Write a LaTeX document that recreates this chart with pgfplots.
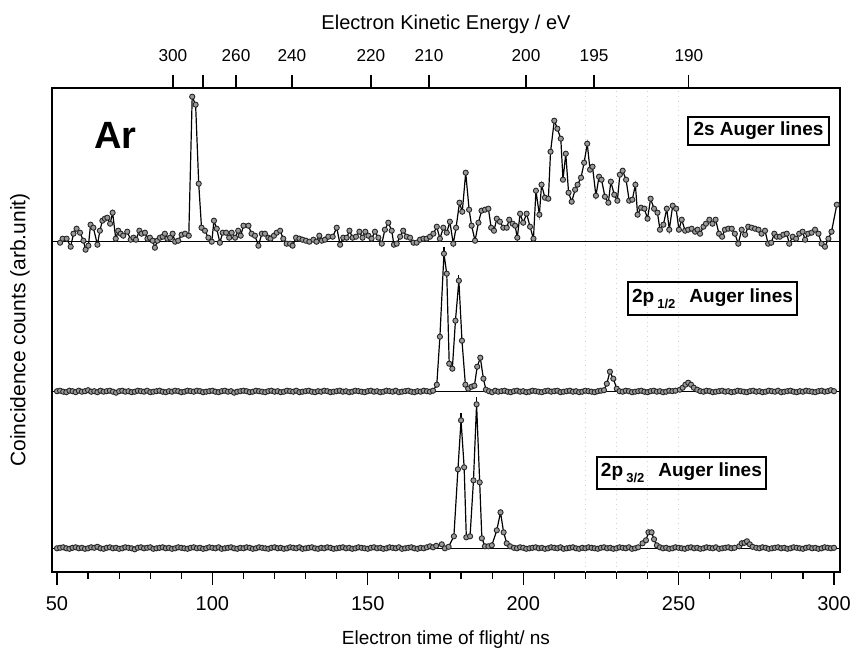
\documentclass[border=0pt]{standalone}
\usepackage{fontspec}
\setmainfont{Liberation Sans}
\usepackage{pgfplots}
\usepackage{pgfplotstable}
\pgfplotsset{compat=1.18}

% 2s Auger lines (t in ns, h = height above baseline)
\pgfplotstableread[row sep=\\]{
t h\\
51.0 -1\\ 51.8 3\\ 53.1 3\\ 54.4 -5\\ 55.3 8\\ 56.3 13\\ 57.4 9\\ 58.5 1\\ 59.2 -8\\ 60.1 -4\\
60.8 17\\ 61.7 14\\ 63.0 -3\\ 63.8 11\\ 64.6 21\\ 65.4 23\\ 66.2 24\\ 67.1 18\\ 67.9 29\\ 68.9 3\\
69.7 11\\ 70.5 8\\ 71.3 6\\ 72.6 10\\ 73.7 2\\ 74.6 4\\ 75.4 2\\ 76.5 11\\ 77.2 8\\ 78.3 9\\
79.1 3\\ 79.9 4\\ 80.8 1\\ 81.5 -6\\ 82.3 1\\ 83.1 4\\ 84.0 5\\ 84.7 8\\ 85.5 3\\ 86.4 4\\
87.2 8\\ 88.0 0\\ 89.0 1\\ 90.1 7\\ 91.2 8\\ 92.4 6\\ 93.5 145\\ 94.6 137\\ 95.6 58\\ 96.5 14\\
97.6 11\\ 98.7 4\\ 99.8 0\\ 100.5 21\\ 101.4 13\\ 102.4 -1\\ 103.3 9\\ 104.4 9\\ 105.4 4\\ 106.2 9\\
107.3 4\\ 108.3 11\\ 109.1 6\\ 110.0 16\\ 111.6 16\\ 112.6 8\\ 113.7 6\\ 114.8 -4\\ 115.9 8\\ 116.9 8\\
118.0 4\\ 118.7 3\\ 119.8 6\\ 120.7 9\\ 121.8 11\\ 122.8 3\\ 123.9 -2\\ 125.0 -2\\ 125.8 -4\\ 126.9 4\\
128.0 3\\ 129.0 2\\ 130.1 1\\ 131.2 0\\ 132.5 2\\ 133.5 0\\ 134.4 6\\ 135.2 1\\ 136.2 2\\ 137.3 5\\
138.7 5\\ 140.0 14\\ 141.1 -3\\ 142.1 4\\ 143.2 4\\ 144.1 11\\ 145.1 4\\ 146.2 5\\ 147.3 10\\ 148.3 4\\
149.2 10\\ 150.2 6\\ 151.2 3\\ 152.3 10\\ 153.4 4\\ 154.5 -2\\ 155.5 12\\ 156.6 19\\ 157.7 11\\ 158.4 -3\\
159.3 -2\\ 160.4 5\\ 161.4 11\\ 162.5 5\\ 163.6 4\\ 164.7 -1\\ 165.7 -1\\ 166.8 2\\ 167.9 3\\ 168.9 3\\
170.0 5\\ 171.1 8\\ 172.2 15\\ 173.2 3\\ 174.3 14\\ 175.4 9\\ 176.4 20\\ 177.5 -2\\ 178.4 14\\ 179.5 39\\
180.4 30\\ 181.5 69\\ 182.6 32\\ 183.4 16\\ 184.5 1\\ 185.6 19\\ 186.6 31\\ 187.7 32\\ 188.8 33\\ 189.7 14\\
190.6 11\\ 191.5 23\\ 192.5 20\\ 193.6 14\\ 194.7 14\\ 195.5 22\\ 196.6 18\\ 197.4 16\\ 198.1 4\\ 199.0 28\\
200.0 19\\ 201.1 28\\ 202.2 15\\ 203.3 3\\ 204.1 51\\ 205.2 27\\ 205.9 57\\ 207.0 44\\ 208.1 43\\ 208.8 90\\
210.0 121\\ 211.0 113\\ 212.1 103\\ 212.8 62\\ 213.7 88\\ 214.6 49\\ 215.6 40\\ 216.7 52\\ 217.5 57\\ 218.6 64\\
219.6 79\\ 220.6 98\\ 221.5 72\\ 222.3 75\\ 223.4 46\\ 224.4 65\\ 225.2 62\\ 226.3 45\\ 227.4 39\\ 228.2 60\\
229.3 47\\ 230.3 41\\ 231.1 67\\ 232.0 71\\ 233.1 62\\ 234.1 41\\ 235.1 42\\ 236.1 57\\ 236.8 27\\ 237.9 34\\
239.0 33\\ 240.0 23\\ 241.0 43\\ 242.1 33\\ 243.2 29\\ 244.0 12\\ 245.1 17\\ 246.2 33\\ 247.0 12\\ 248.1 36\\
249.2 33\\ 250.1 12\\ 251.0 22\\ 252.1 11\\ 253.1 12\\ 254.2 13\\ 255.3 10\\ 256.1 12\\ 256.9 8\\ 258.0 15\\
258.8 18\\ 259.9 22\\ 260.9 18\\ 261.9 22\\ 263.0 8\\ 264.0 5\\ 264.9 12\\ 266.0 13\\ 267.1 13\\ 268.1 8\\
269.2 -2\\ 270.3 12\\ 271.4 7\\ 272.4 15\\ 273.5 14\\ 274.6 13\\ 275.7 12\\ 276.7 8\\ 277.8 11\\ 278.8 -2\\
279.8 -1\\ 280.8 8\\ 281.6 5\\ 282.6 5\\ 283.7 7\\ 284.8 8\\ 285.6 -2\\ 286.7 5\\ 287.8 3\\ 288.8 8\\
289.9 10\\ 290.7 2\\ 291.7 8\\ 292.8 9\\ 293.9 12\\ 295.0 8\\ 296.0 -2\\ 297.1 -5\\ 298.2 3\\ 299.2 10\\
300.9 37\\
}\twosdata

% 2p1/2 Auger lines
\pgfplotstableread[row sep=\\]{
t h\\
50 0.5\\ 51 1\\ 52 0\\ 53 -0.5\\ 54 1\\ 55 0.5\\ 56 -0.5\\ 57 1\\ 58 0\\ 59 0.5\\
60 1.5\\ 61 0\\ 62 0.5\\ 63 -0.5\\ 64 1\\ 65 0\\ 66 0.5\\ 67 1\\ 68 0\\ 69 -1\\
70 0.5\\ 71 1\\ 72 0\\ 73 0.5\\ 74 -0.5\\ 75 0\\ 76 1\\ 77 0.5\\ 78 0\\ 79 1\\
80 -0.5\\ 81 0\\ 82 0.5\\ 83 1\\ 84 0\\ 85 -0.5\\ 86 0.5\\ 87 0\\ 88 1\\ 89 0.5\\
90 -0.5\\ 91 0\\ 92 1\\ 93 0.5\\ 94 0\\ 95 1\\ 96 0.5\\ 97 -0.5\\ 98 0\\ 99 0.5\\
100 1\\ 101 0\\ 102 -0.5\\ 103 0.5\\ 104 1\\ 105 0\\ 106 0.5\\ 107 -1\\ 108 0\\ 109 0.5\\
110 1\\ 111 0.5\\ 112 -0.5\\ 113 0\\ 114 1\\ 115 0.5\\ 116 0\\ 117 -0.5\\ 118 0.5\\ 119 1\\
120 0\\ 121 0.5\\ 122 -0.5\\ 123 0\\ 124 1\\ 125 0.5\\ 126 0\\ 127 1\\ 128 -0.5\\ 129 0\\
130 0.5\\ 131 1\\ 132 0\\ 133 -0.5\\ 134 0.5\\ 135 0\\ 136 1\\ 137 0.5\\ 138 -0.5\\ 139 0\\
140 0.5\\ 141 1\\ 142 0\\ 143 0.5\\ 144 -0.5\\ 145 0\\ 146 1\\ 147 0.5\\ 148 0\\ 149 -0.5\\
150 0.5\\ 151 1\\ 152 0\\ 153 0.5\\ 154 -0.5\\ 155 0\\ 156 1\\ 157 0.5\\ 158 0\\ 159 1\\
160 -0.5\\ 161 0\\ 162 0.5\\ 163 1\\ 164 0\\ 165 -0.5\\ 166 0.5\\ 167 0\\ 168 1\\ 169 0.5\\
170 0\\ 171 1\\ 172.2 7\\ 173.2 55\\ 174.5 138\\ 175.4 118\\ 176.2 28\\ 177.2 23\\ 178.2 71\\ 179.3 111\\
180.3 51\\ 181.4 7\\ 182.3 3\\ 183.4 5\\ 184.3 6\\ 185.2 25\\ 186.2 34\\ 187.2 13\\ 188.0 2\\ 189 0.5\\
190 -0.5\\ 191 1\\ 192 0\\ 193 0.5\\ 194 1\\ 195 0\\ 196 -0.5\\ 197 0.5\\ 198 1\\ 199 0\\
200 0.5\\ 201 -0.5\\ 202 0\\ 203 1\\ 204 0.5\\ 205 0\\ 206 -0.5\\ 207 0.5\\ 208 1\\ 209 0\\
210 0.5\\ 211 1\\ 212 -0.5\\ 213 0\\ 214 0.5\\ 215 1\\ 216 0\\ 217 0.5\\ 218 -0.5\\ 219 0\\
220 1\\ 221 0.5\\ 222 0\\ 223 -0.5\\ 224 0.5\\ 225 1\\ 226 1.5\\ 226.9 8\\ 227.9 20\\ 229.0 13\\
230.1 3\\ 231 0.5\\ 232 0\\ 233 1\\ 234 0.5\\ 235 -0.5\\ 236 0\\ 237 0.5\\ 238 1\\ 239 0\\
240 -0.5\\ 241 0.5\\ 242 1\\ 243 0\\ 244 0.5\\ 245 -0.5\\ 246 0\\ 247 1\\ 248 0.5\\ 249 1\\
250.4 2\\ 251.3 4\\ 252.2 7\\ 253.1 9\\ 254.0 7\\ 254.9 4\\ 256 2\\ 257 0.5\\ 258 0\\ 259 1\\
260 0.5\\ 261 -0.5\\ 262 0\\ 263 0.5\\ 264 1\\ 265 0\\ 266 0.5\\ 267 -0.5\\ 268 0\\ 269 1\\
270 0.5\\ 271 0\\ 272 -0.5\\ 273 0.5\\ 274 1\\ 275 0\\ 276 0.5\\ 277 -0.5\\ 278 0\\ 279 1\\
280 0.5\\ 281 0\\ 282 1\\ 283 -0.5\\ 284 0\\ 285 0.5\\ 286 1\\ 287 0\\ 288 -0.5\\ 289 0.5\\
290 0\\ 291 1\\ 292 0.5\\ 293 0\\ 294 -0.5\\ 295 0.5\\ 296 1\\ 297 0\\ 298 0.5\\ 299 1.5\\
300 0.5\\
}\ponedata

% 2p3/2 Auger lines
\pgfplotstableread[row sep=\\]{
t h\\
50 0\\ 51 0.5\\ 52 1\\ 53 0\\ 54 -0.5\\ 55 0.5\\ 56 1\\ 57 0\\ 58 0.5\\ 59 -0.5\\
60 0\\ 61 1\\ 62 0.5\\ 63 1.5\\ 64 0\\ 65 -0.5\\ 66 0.5\\ 67 1\\ 68 0\\ 69 0.5\\
70 -0.5\\ 71 0\\ 72 1\\ 73 0.5\\ 74 0\\ 75 -1\\ 76 0.5\\ 77 1\\ 78 0\\ 79 0.5\\
80 1\\ 81 -0.5\\ 82 0\\ 83 0.5\\ 84 1\\ 85 0\\ 86 0.5\\ 87 -0.5\\ 88 0\\ 89 1\\
90 0.5\\ 91 0\\ 92 -0.5\\ 93 0.5\\ 94 1\\ 95 0\\ 96 0.5\\ 97 -0.5\\ 98 0\\ 99 1\\
100 0.5\\ 101 0\\ 102 1\\ 103 -0.5\\ 104 0\\ 105 0.5\\ 106 1\\ 107 0\\ 108 -0.5\\ 109 0.5\\
110 0\\ 111 1\\ 112 0.5\\ 113 -0.5\\ 114 0\\ 115 1\\ 116 0.5\\ 117 0\\ 118 -0.5\\ 119 0.5\\
120 1\\ 121 0\\ 122 0.5\\ 123 -0.5\\ 124 0\\ 125 1\\ 126 0.5\\ 127 0\\ 128 1\\ 129 -0.5\\
130 0\\ 131 0.5\\ 132 1\\ 133 0\\ 134 -0.5\\ 135 0.5\\ 136 0\\ 137 1\\ 138 0.5\\ 139 -0.5\\
140 0\\ 141 0.5\\ 142 1\\ 143 0\\ 144 0.5\\ 145 -0.5\\ 146 0\\ 147 1\\ 148 0.5\\ 149 0\\
150 -0.5\\ 151 0.5\\ 152 1\\ 153 0\\ 154 0.5\\ 155 -0.5\\ 156 0\\ 157 1\\ 158 0.5\\ 159 0\\
160 1\\ 161 -0.5\\ 162 0\\ 163 0.5\\ 164 1\\ 165 0\\ 166 -0.5\\ 167 0.5\\ 168 0\\ 169 1\\
170 2\\ 171 1\\ 172 2.5\\ 173.8 4\\ 174.8 0\\ 176.0 1.5\\ 177.7 12\\ 179.0 79\\ 180.0 128\\ 181.0 81\\
181.7 11\\ 182.9 12\\ 184.0 68\\ 185.0 144\\ 186.0 66\\ 186.7 10\\ 187.7 2\\ 188.8 2\\ 189.9 3\\ 191.5 18\\
192.7 36\\ 193.7 16\\ 194.7 5\\ 195.8 2\\ 197 0.5\\ 198 0\\ 199 1\\ 200 0.5\\ 201 -0.5\\ 202 0\\
203 0.5\\ 204 1\\ 205 0\\ 206 0.5\\ 207 -0.5\\ 208 0\\ 209 1\\ 210 0.5\\ 211 0\\ 212 1\\
213 -0.5\\ 214 0\\ 215 0.5\\ 216 1\\ 217 0\\ 218 -0.5\\ 219 0.5\\ 220 0\\ 221 1\\ 222 0.5\\
223 0\\ 224 -0.5\\ 225 0.5\\ 226 1\\ 227 0\\ 228 0.5\\ 229 -0.5\\ 230 0\\ 231 1\\ 232 0.5\\
233 0\\ 234 1\\ 235 -0.5\\ 236 0\\ 237 1\\ 238.4 5\\ 239.5 8\\ 240.3 16\\ 241.3 16\\ 242.1 9\\
243.0 3\\ 244 1\\ 245 0\\ 246 0.5\\ 247 -0.5\\ 248 0\\ 249 1\\ 250 0.5\\ 251 0\\ 252 -0.5\\
253 0.5\\ 254 1\\ 255 0\\ 256 0.5\\ 257 -0.5\\ 258 0\\ 259 1\\ 260 0.5\\ 261 0\\ 262 1\\
263 -0.5\\ 264 0\\ 265 0.5\\ 266 1\\ 267 0\\ 268 0.5\\ 269.5 2\\ 270.3 5\\ 271.2 5.5\\ 272.0 7\\
272.9 4\\ 273.8 1.5\\ 275 0.5\\ 276 0\\ 277 1\\ 278 0.5\\ 279 -0.5\\ 280 0\\ 281 0.5\\ 282 1\\
283 0\\ 284 0.5\\ 285 -0.5\\ 286 0\\ 287 1\\ 288 0.5\\ 289 0\\ 290 -0.5\\ 291 0.5\\ 292 1\\
293 0\\ 294 0.5\\ 295 -0.5\\ 296 0\\ 297 1\\ 298 0.5\\ 299 0\\ 300 0.5\\
}\pthreedata

\pgfplotsset{
  spec/.style={black, line width=0.6pt, mark=*, mark size=1.3pt,
    mark options={fill=gray!80, draw=black!85, line width=0.45pt, solid}},
}

\begin{document}
\begin{tikzpicture}
\begin{axis}[
  name=main,
  scale only axis, width=394pt, height=242pt,
  xmin=48.39, xmax=301.93, ymin=0, ymax=484,
  axis line style={line width=0.7pt},
  ytick=\empty,
  xtick={50,100,...,300},
  minor x tick num=4,
  xtick pos=bottom,
  tick align=outside,
  major tick length=6.5pt, minor tick length=3.5pt,
  every tick/.style={black, line width=0.6pt},
  /pgf/number format/assume math mode=true,
  xticklabel style={font=\fontsize{10}{12}\selectfont, anchor=center, yshift=-9.5pt},
  xlabel={Electron time of flight/ ns},
  xlabel style={font=\fontsize{9.5}{11}\selectfont, at={([yshift=-34pt]axis description cs:0.5,0)}, anchor=center},
  ylabel={Coincidence counts (arb.unit)},
  ylabel style={font=\fontsize{10.5}{12}\selectfont, at={([xshift=-16pt]axis description cs:0,0.5)}, anchor=center},
]
% faint residual grid lines
\addplot[gray!35, dotted, line width=0.4pt, forget plot] coordinates {(220,0) (220,484)};
\addplot[gray!35, dotted, line width=0.4pt, forget plot] coordinates {(230,0) (230,484)};
\addplot[gray!35, dotted, line width=0.4pt, forget plot] coordinates {(240,0) (240,484)};
\addplot[gray!35, dotted, line width=0.4pt, forget plot] coordinates {(250,0) (250,484)};
% zero lines
\addplot[black, line width=0.5pt, forget plot] coordinates {(48.39,330.3) (301.93,330.3)};
\addplot[black, line width=0.5pt, forget plot] coordinates {(48.39,180.3) (301.93,180.3)};
\addplot[black, line width=0.5pt, forget plot] coordinates {(48.39,23.7) (301.93,23.7)};
% spectra
\addplot[spec] table[x=t, y expr=\thisrow{h}+330.3] {\twosdata};
\addplot[spec] table[x=t, y expr=\thisrow{h}+180.3] {\ponedata};
\addplot[spec] table[x=t, y expr=\thisrow{h}+23.7] {\pthreedata};
% error bars on main peaks
\addplot[draw=none, mark=none, forget plot,
  error bars/.cd, y dir=plus, y explicit, error mark=none,
  error bar style={draw=black, line width=0.6pt}]
  coordinates {(174.5,318.3) +- (0,7) (179.3,291.3) +- (0,6) (180.0,151.7) +- (0,7) (185.0,167.7) +- (0,7)};
% labels
\node[font=\fontsize{19}{19}\selectfont\bfseries] at (axis cs:68.7,437) {Ar};
\node[draw, line width=0.6pt, minimum width=70.5pt, minimum height=14pt, inner sep=0pt,
  font=\fontsize{9.5}{11}\selectfont\bfseries] at (axis cs:275.7,441) {2s Auger lines};
\node[draw, line width=0.6pt, minimum width=84.5pt, minimum height=16.5pt, inner sep=0pt,
  font=\fontsize{9.5}{11}\selectfont\bfseries] at (axis cs:260.9,273.5)
  {2p\,\raisebox{-0.6ex}{\fontsize{6.5}{7}\selectfont 1/2}\hspace{7pt}Auger lines};
\node[draw, line width=0.6pt, minimum width=84.5pt, minimum height=16pt, inner sep=0pt,
  font=\fontsize{9.5}{11}\selectfont\bfseries] at (axis cs:250.9,99)
  {2p\,\raisebox{-0.6ex}{\fontsize{6.5}{7}\selectfont 3/2}\hspace{7pt}Auger lines};
\end{axis}
\begin{axis}[
  scale only axis, width=394pt, height=242pt,
  xmin=48.39, xmax=301.93, ymin=0, ymax=484,
  axis x line*=top, axis y line=none,
  axis line style={line width=0.7pt},
  xtick={87.3,97.0,107.6,125.6,151.0,169.7,200.9,222.8,253.3},
  xticklabels={300,{},260,240,220,210,200,195,190},
  tick align=outside, major tick length=6.7pt,
  every tick/.style={black, line width=0.6pt},
  /pgf/number format/assume math mode=true,
  xticklabel style={font=\fontsize{8.6}{10}\selectfont, anchor=center, yshift=9.6pt},
  xlabel={Electron Kinetic Energy / eV},
  xlabel style={font=\fontsize{10}{12}\selectfont, at={([yshift=32pt]axis description cs:0.5,1)}, anchor=center},
]
\end{axis}
\pgfresetboundingbox
\useasboundingbox ([shift={(-26pt,-40.5pt)}]main.south west) rectangle ([shift={(5.5pt,44pt)}]main.north east);
\end{tikzpicture}
\end{document}
